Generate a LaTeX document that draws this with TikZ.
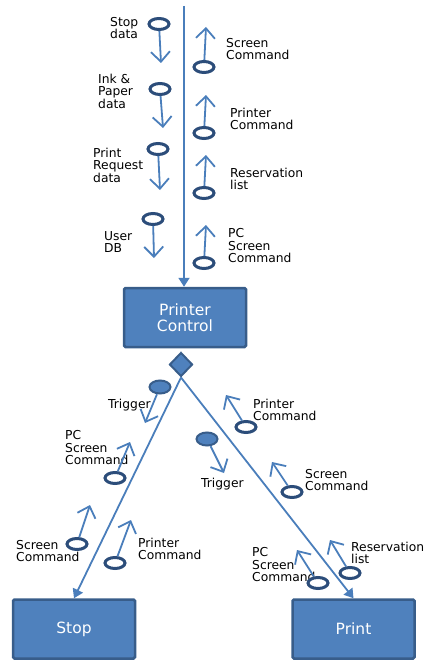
\documentclass[tikz,border=0pt]{standalone}
\usepackage{fontspec}
\setmainfont{DejaVu Sans}
\usetikzlibrary{arrows.meta,shapes.geometric,positioning}
\definecolor{flowblue}{RGB}{74,126,187}
\definecolor{edgeblue}{RGB}{56,93,138}
\definecolor{ringblue}{RGB}{44,77,122}
\definecolor{boxblue}{RGB}{79,129,189}
\tikzset{
    %Define style for modules
    modul/.style={
           rectangle,
           rounded corners=1.5pt,
           draw=edgeblue, line width=2.5pt,
           fill=boxblue, text=white,
           minimum width=122pt,
           minimum height=59pt,
           align=center,
           font=\fontsize{15.5}{16}\selectfont},
    %Define style for data couples
    datum/.style={
           ellipse,
           draw=ringblue, line width=3pt,
           fill=white,
           minimum width=20pt,
           minimum height=11pt,
           inner sep=0pt},
    %Define style for control flags
    flag/.style={
           ellipse,
           draw=edgeblue, line width=2pt,
           fill=boxblue,
           minimum width=21pt,
           minimum height=13pt,
           inner sep=0pt},
    %Define style for labels
    lbl/.style={
           anchor=west,
           align=left,
           inner sep=0pt,
           font=\fontsize{12.3}{12.5}\selectfont},
    % Define arrow styles
    couple/.style={
           draw=flowblue,
           line width=1.8pt,
           -{Straight Barb[length=10pt,width=19pt,line width=1.8pt]}},
    call/.style={
           draw=flowblue,
           line width=1.8pt,
           -{Triangle[length=9pt,width=11pt]}}
}
\begin{document}
\begin{tikzpicture}[x=1pt,y=-1pt]
         \useasboundingbox (0,0) rectangle (424,661);
         %modules
          \node[modul] (ctrl) at (185,317.5) {Printer\\Control};
          \node[modul] (stop) at (74,629) {Stop};
          \node[modul] (print) at (353.5,629) {Print};
          \node[diamond, draw=edgeblue, line width=2pt, fill=boxblue,
                minimum width=23pt, minimum height=24pt, inner sep=0pt]
          (sel) at (181,364.5) {};
          \coordinate (top) at (184,6);
          \draw[call] (top) -- (top |- ctrl.north);
          \draw[call] (sel.south) -- (stop.north);
          \draw[call] (sel.south) -- (print.north);
         %labels
          \node[lbl] (sd-l) at (110,28) {Stop\\data};
          \node[lbl] (ip-l) at (98,91) {Ink \&\\Paper\\data};
          \node[lbl] (rq-l) at (93,165) {Print\\Request\\data};
          \node[lbl] (db-l) at (104,242) {User\\DB};
          \node[lbl] (sc-l) at (226,49) {Screen\\Command};
          \node[lbl] (pm-l) at (230,119) {Printer\\Command};
          \node[lbl] (rv-l) at (230,179) {Reservation\\list};
          \node[lbl] (ps-l) at (228,246) {PC\\Screen\\Command};
          \node[lbl] (tg1-l) at (108,405) {Trigger};
          \node[lbl] (pm2-l) at (253,410) {Printer\\Command};
          \node[lbl] (tg2-l) at (201,484) {Trigger};
          \node[lbl] (ps2-l) at (65,448) {PC\\Screen\\Command};
          \node[lbl] (sc2-l) at (305,480) {Screen\\Command};
          \node[lbl] (sc3-l) at (16,551) {Screen\\Command};
          \node[lbl] (pm3-l) at (138,549) {Printer\\Command};
          \node[lbl] (ps3-l) at (252,565) {PC\\Screen\\Command};
          \node[lbl] (rv2-l) at (351,553) {Reservation\\list};
         %couples to printer control
          \node[datum] (sd) at (159,24) {};
          \coordinate (sd-e) at (161,63);
          \draw[couple] (sd) -- (sd-e);
          \node[datum] (ip) at (160,89) {};
          \coordinate (ip-e) at (163,128);
          \draw[couple] (ip) -- (ip-e);
          \node[datum] (rq) at (158,149) {};
          \coordinate (rq-e) at (160,190);
          \draw[couple] (rq) -- (rq-e);
          \node[datum] (db) at (153,219) {};
          \coordinate (db-e) at (154,258);
          \draw[couple] (db) -- (db-e);
          \node[datum] (sc) at (204,67) {};
          \coordinate (sc-e) at (206,27);
          \draw[couple] (sc) -- (sc-e);
          \node[datum] (pm) at (204,133) {};
          \coordinate (pm-e) at (206,95);
          \draw[couple] (pm) -- (pm-e);
          \node[datum] (rv) at (204,193) {};
          \coordinate (rv-e) at (206,155);
          \draw[couple] (rv) -- (rv-e);
          \node[datum] (ps) at (204,263) {};
          \coordinate (ps-e) at (206,225);
          \draw[couple] (ps) -- (ps-e);
         %couples to stop and print
          \node[flag] (tg1) at (160,387) {};
          \coordinate (tg1-e) at (145,423);
          \draw[couple] (tg1) -- (tg1-e);
          \node[datum] (pm2) at (246,427) {};
          \coordinate (pm2-e) at (226,395);
          \draw[couple] (pm2) -- (pm2-e);
          \node[flag] (tg2) at (207,439) {};
          \coordinate (tg2-e) at (224,473);
          \draw[couple] (tg2) -- (tg2-e);
          \node[datum] (ps2) at (115,478) {};
          \coordinate (ps2-e) at (130,442);
          \draw[couple] (ps2) -- (ps2-e);
          \node[datum] (sc2) at (292,492) {};
          \coordinate (sc2-e) at (272,462);
          \draw[couple] (sc2) -- (sc2-e);
          \node[datum] (sc3) at (77,544) {};
          \coordinate (sc3-e) at (90,505);
          \draw[couple] (sc3) -- (sc3-e);
          \node[datum] (pm3) at (115,563) {};
          \coordinate (pm3-e) at (131,520);
          \draw[couple] (pm3) -- (pm3-e);
          \node[datum] (ps3) at (318,583) {};
          \coordinate (ps3-e) at (297,550);
          \draw[couple] (ps3) -- (ps3-e);
          \node[datum] (rv2) at (350,573) {};
          \coordinate (rv2-e) at (330,540);
          \draw[couple] (rv2) -- (rv2-e);
\end{tikzpicture}
\end{document}
